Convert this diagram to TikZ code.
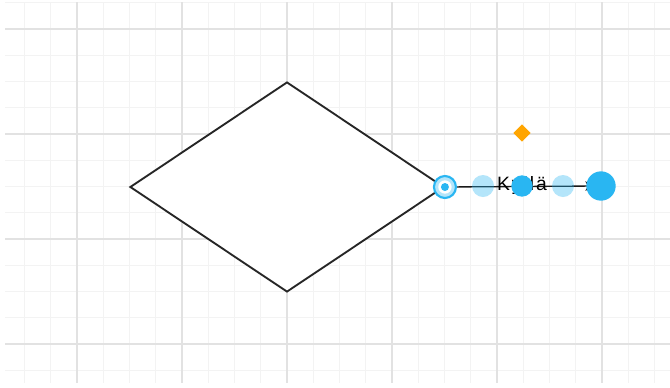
\documentclass[tikz,border=0pt]{standalone}
\usepackage{fontspec}
\setmainfont{Liberation Sans}
\usepackage{tikz}
\usetikzlibrary{positioning}
\usetikzlibrary{shapes.geometric}
\usetikzlibrary{arrows.meta}
\definecolor{handleblue}{HTML}{29B6F2}
\definecolor{handleorange}{HTML}{FFA500}
\definecolor{gridmajor}{HTML}{E2E2E2}
\definecolor{gridminor}{HTML}{F3F3F3}
\tikzset{
  decision_node/.style = {diamond, draw=black!85, line width=1.4pt, fill=white,
    inner sep=0pt, minimum width=235.5pt, minimum height=157.5pt},
  edge_label/.style = {font=\fontsize{14.5}{16}\selectfont\addfontfeature{LetterSpace=10},
    inner sep=1pt},
  ring_handle/.style = {circle, inner sep=0pt, minimum size=16.5pt, fill=handleblue!35,
    draw=handleblue, line width=1.6pt},
  soft_handle/.style = {circle, inner sep=0pt, minimum size=16.5pt, fill=handleblue, fill opacity=0.35,
    draw=none},
  solid_handle/.style = {circle, inner sep=0pt, minimum size=16pt, fill=handleblue, draw=none},
  end_handle/.style = {circle, inner sep=0pt, minimum size=22pt, fill=handleblue, draw=none},
  turn_handle/.style = {diamond, inner sep=0pt, minimum size=13pt, fill=handleorange, draw=none}
}

\begin{document}
\begin{tikzpicture}[x=0.75pt,y=-0.75pt]
  \useasboundingbox (0,0) rectangle (670,387);
  \fill[white] (0,0) rectangle (670,387);
  % grid
  \foreach \i in {0,...,25} {
    \draw[gridminor, line width=1pt] ({-1.75+26.25*\i},2) -- ({-1.75+26.25*\i},383);
  }
  \foreach \j in {0,...,14} {
    \draw[gridminor, line width=1pt] (5,{2.75+26.25*\j}) -- (670,{2.75+26.25*\j});
  }
  \foreach \i in {0,...,5} {
    \draw[gridmajor, line width=1.4pt] ({77+105*\i},2) -- ({77+105*\i},383);
  }
  \foreach \j in {0,...,3} {
    \draw[gridmajor, line width=1.4pt] (5,{29+105*\j}) -- (670,{29+105*\j});
  }

  % shape and edge
  \node[decision_node] (choice) at (287,187) {};
  \coordinate (yes_tip) at (596,186);
  \coordinate (yes_end) at (601,186);
  \draw[black!90, line width=1pt, -{Stealth[length=8pt,width=7pt,inset=2pt]}] (choice.east) -- (yes_tip);
  \node[edge_label] (yes) at (522,185) {Kyllä};

  % selection handles
  \node[ring_handle] (h_start) at (choice.east) {};
  \node[circle, inner sep=0pt, minimum size=10pt, fill=white] at (h_start) {};
  \node[circle, inner sep=0pt, minimum size=6pt, fill=handleblue] at (h_start) {};
  \node[soft_handle] (h_left) at (483,186) {};
  \node[solid_handle] (h_mid) at (522,186) {};
  \node[soft_handle] (h_right) at (563,186) {};
  \node[end_handle] (h_end) at (yes_end) {};
  \node[turn_handle] (h_turn) at (522,133) {};
\end{tikzpicture}
\end{document}
